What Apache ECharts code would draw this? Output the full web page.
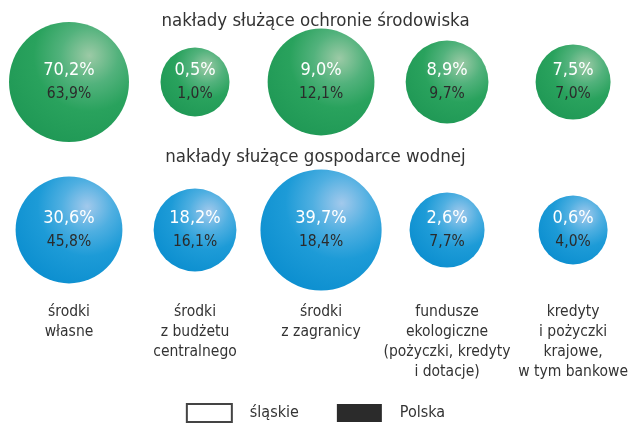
<!DOCTYPE html>
<html><head><meta charset="utf-8">
<script src="https://cdn.jsdelivr.net/npm/echarts@6/dist/echarts.min.js"></script>
<style>html,body{margin:0;padding:0;background:#fff}#c{width:631px;height:424px}</style>
</head><body><div id="c"></div>
<script>
const categories = ['środki\nwłasne', 'środki\nz budżetu\ncentralnego', 'środki\nz zagranicy', 'fundusze\nekologiczne\n(pożyczki, kredyty\ni dotacje)', 'kredyty\ni pożyczki\nkrajowe,\nw tym bankowe'];
const rowTitles = ['nakłady służące ochronie środowiska', 'nakłady służące gospodarce wodnej'];
const legendNames = ['śląskie', 'Polska'];
const envSlaskie = [70.2, 0.5, 9.0, 8.9, 7.5];
const envPolska = [63.9, 1.0, 12.1, 9.7, 7.0];
const envMagnitude = [100, 57.5, 89, 69, 62.5];
const waterSlaskie = [30.6, 18.2, 39.7, 2.6, 0.6];
const waterPolska = [45.8, 16.1, 18.4, 7.7, 4.0];
const waterMagnitude = [89, 69, 101, 62.5, 57.5];

const FONT = "'DejaVu Sans Condensed', 'Liberation Sans Narrow', sans-serif";
const fmt = v => v.toFixed(1).replace('.', ',') + '%';

function rowData(sl, pl, mag, y) {
  return sl.map((v, i) => [i, y, mag[i], v, pl[i]]);
}
function grad(hi, mid, base, edge) {
  return new echarts.graphic.RadialGradient(0.67, 0.28, 0.8, [
    { offset: 0, color: hi },
    { offset: 0.3, color: mid },
    { offset: 0.58, color: base },
    { offset: 1, color: edge }
  ]);
}
const bubbleLabel = {
  show: true, position: 'inside',
  formatter: p => '{a|' + fmt(p.value[3]) + '}\n{b|' + fmt(p.value[4]) + '}',
  rich: {
    a: { fontFamily: FONT, fontSize: 18, color: '#ffffff', lineHeight: 24 },
    b: { fontFamily: FONT, fontSize: 15.5, color: '#2b2b2b', lineHeight: 24 }
  }
};
const chart = echarts.init(document.getElementById('c'), null, { renderer: 'canvas' });
chart.setOption({
  animation: false,
  textStyle: { fontFamily: FONT },
  title: [
    { text: rowTitles[0], left: 'center', top: 7, textStyle: { fontFamily: FONT, fontSize: 18.5, fontWeight: 'normal', color: '#333' } },
    { text: rowTitles[1], left: 'center', top: 143, textStyle: { fontFamily: FONT, fontSize: 18.5, fontWeight: 'normal', color: '#333' } }
  ],
  legend: {
    data: legendNames, top: 403, left: 'center', padding: 0,
    itemWidth: 45, itemHeight: 18, itemGap: 38, icon: 'rect',
    textStyle: { fontFamily: FONT, fontSize: 16, color: '#333', padding: [0, 0, 0, 13] }
  },
  grid: { left: 69, right: 49, top: 82, bottom: 194 },
  xAxis: {
    type: 'value', min: 0, max: 4, interval: 1,
    axisLine: { show: false }, axisTick: { show: false }, splitLine: { show: false },
    axisLabel: {
      margin: 72, fontFamily: FONT, fontSize: 15.5, lineHeight: 20, color: '#333',
      verticalAlign: 'top', formatter: v => categories[v]
    }
  },
  yAxis: { type: 'value', min: 0, max: 1, show: false },
  series: [
    {
      type: 'scatter', name: 'env', data: rowData(envSlaskie, envPolska, envMagnitude, 1),
      symbolSize: v => v[2] * 1.2,
      itemStyle: { color: grad('#9ccaa6', '#52b27c', '#29a25d', '#1f9855'), opacity: 1 },
      emphasis: { disabled: true },
      label: bubbleLabel
    },
    {
      type: 'scatter', name: 'water', data: rowData(waterSlaskie, waterPolska, waterMagnitude, 0),
      symbolSize: v => v[2] * 1.2,
      itemStyle: { color: grad('#a2c9ec', '#4fafe1', '#1d9bd7', '#0b8ecf'), opacity: 1 },
      emphasis: { disabled: true },
      label: bubbleLabel
    },
    { type: 'scatter', name: legendNames[0], data: [], itemStyle: { color: '#ffffff', borderColor: '#444', borderWidth: 1, opacity: 1 } },
    { type: 'scatter', name: legendNames[1], data: [], itemStyle: { color: '#2b2b2b', opacity: 1 } }
  ]
});
</script></body></html>
